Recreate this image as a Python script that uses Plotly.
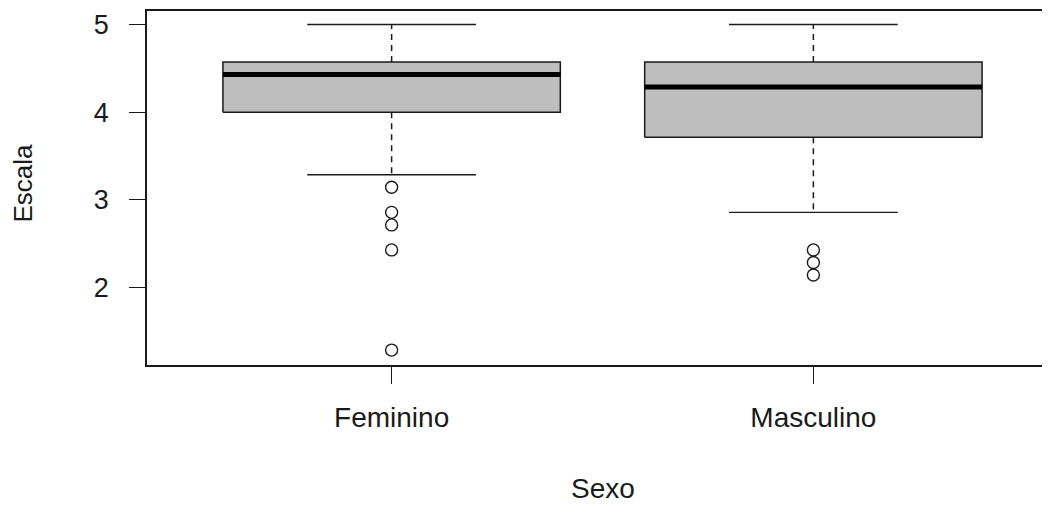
import plotly.graph_objects as go

categories = ["Feminino", "Masculino"]
upper_whisker = [5.0, 5.0]
q3 = [4.571, 4.571]
median = [4.429, 4.286]
q1 = [4.0, 3.714]
lower_whisker = [3.286, 2.857]
outliers = [
    [3.143, 2.857, 2.714, 2.429, 1.286],
    [2.429, 2.286, 2.143],
]

y_ticks = [2, 3, 4, 5]

BOX_HALF = 0.4
CAP_HALF = 0.2
INK = "#1a1a1a"
FILL = "#bebebe"

fig = go.Figure()

for i, cat in enumerate(categories):
    xc = i + 1
    # dashed whiskers
    fig.add_trace(go.Scatter(
        x=[xc, xc, None, xc, xc],
        y=[q3[i], upper_whisker[i], None, q1[i], lower_whisker[i]],
        mode="lines", line=dict(color=INK, width=1.5, dash="6px,5px"),
        showlegend=False, hoverinfo="skip"))
    # staples
    fig.add_trace(go.Scatter(
        x=[xc - CAP_HALF, xc + CAP_HALF, None, xc - CAP_HALF, xc + CAP_HALF],
        y=[upper_whisker[i], upper_whisker[i], None, lower_whisker[i], lower_whisker[i]],
        mode="lines", line=dict(color=INK, width=1.4),
        showlegend=False, hoverinfo="skip"))
    # box
    fig.add_trace(go.Scatter(
        x=[xc - BOX_HALF, xc + BOX_HALF, xc + BOX_HALF, xc - BOX_HALF, xc - BOX_HALF],
        y=[q1[i], q1[i], q3[i], q3[i], q1[i]],
        mode="lines", fill="toself", fillcolor=FILL,
        line=dict(color=INK, width=1.5),
        showlegend=False, hoverinfo="skip"))
    # median
    fig.add_trace(go.Scatter(
        x=[xc - BOX_HALF, xc + BOX_HALF],
        y=[median[i], median[i]],
        mode="lines", line=dict(color="#000000", width=5),
        showlegend=False, hoverinfo="skip"))
    # outliers
    fig.add_trace(go.Scatter(
        x=[xc] * len(outliers[i]), y=outliers[i],
        mode="markers",
        marker=dict(symbol="circle-open", size=12, color=INK, line=dict(width=1.4, color=INK)),
        showlegend=False, hoverinfo="skip"))

W, H = 1050, 505
ml, mt, mb = 139, 3, 148
plot_h = H - mt - mb
plot_w = W - ml
bottom_px = H - mb

fig.update_layout(
    width=W, height=H,
    margin=dict(l=ml, r=0, t=mt, b=mb),
    paper_bgcolor="white", plot_bgcolor="white",
    font=dict(family="Liberation Sans, Arial, sans-serif", color=INK),
    showlegend=False,
    xaxis=dict(
        range=[0.42, 2.58],
        tickvals=[1, 2], ticktext=categories,
        ticks="outside", ticklen=17, tickwidth=1.4, tickcolor=INK,
        showline=True, linecolor=INK, linewidth=1.5, mirror=True,
        showgrid=False, zeroline=False,
        tickfont=dict(size=28, color=INK),
        ticklabelstandoff=10,
    ),
    yaxis=dict(
        range=[1.116, 5.154],
        tickvals=y_ticks, ticktext=[str(v) for v in y_ticks],
        ticks="outside", ticklen=16, tickwidth=1.4, tickcolor=INK,
        showline=True, linecolor=INK, linewidth=1.5, mirror=False,
        showgrid=False, zeroline=False,
        tickfont=dict(size=27, color=INK),
        ticklabelstandoff=15,
    ),
    annotations=[
        dict(text="Sexo", xref="x", x=1.5, yref="paper", y=(bottom_px - 480) / plot_h,
             xanchor="center", yanchor="middle", showarrow=False,
             font=dict(size=28, color=INK)),
        dict(text="Escala", xref="paper", x=(14.5 - ml) / plot_w, yref="paper",
             y=(bottom_px - 175) / plot_h, xanchor="center", yanchor="middle",
             textangle=-90, showarrow=False, font=dict(size=26, color=INK)),
    ],
)

fig.write_html("out.html")
